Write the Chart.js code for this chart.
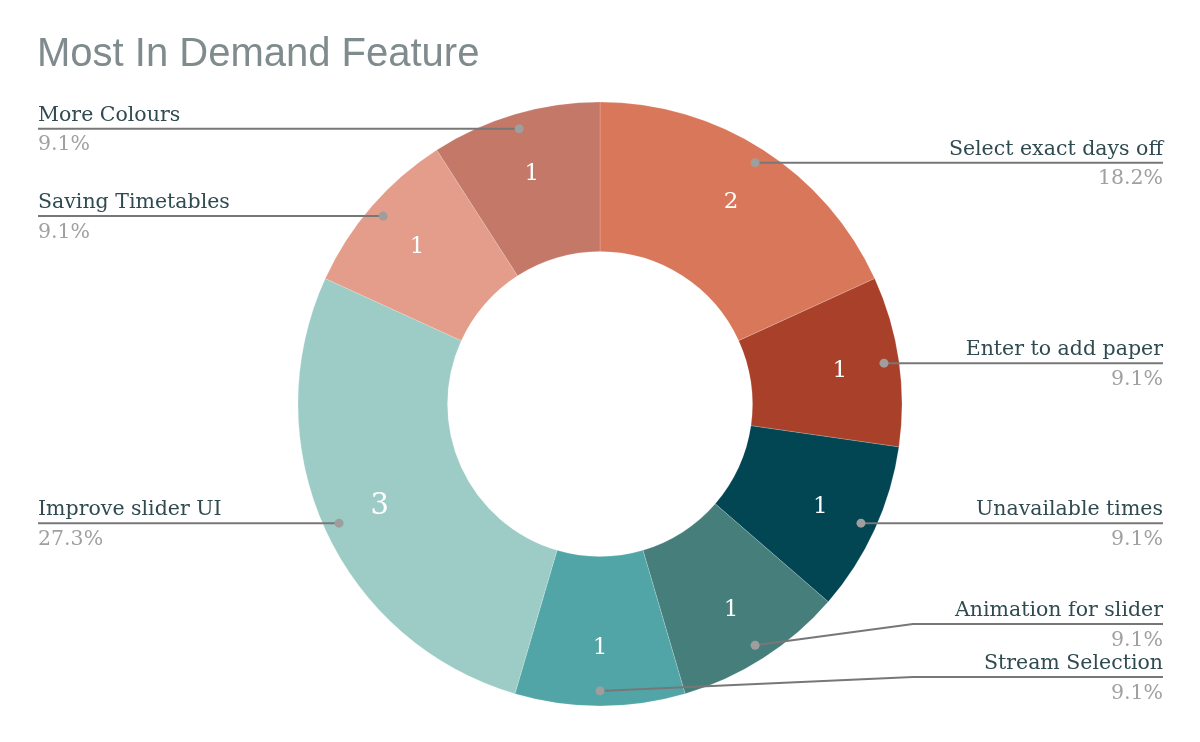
<!DOCTYPE html>
<html>
<head>
<meta charset="utf-8">
<script src="https://cdn.jsdelivr.net/npm/chart.js@4.4.1/dist/chart.umd.min.js"></script>
<style>
html,body{margin:0;padding:0;background:#fff;}
#wrap{position:relative;width:1200px;height:742px;}
</style>
</head>
<body>
<div id="wrap"><canvas id="c" width="1200" height="742"></canvas></div>
<script>
const chartTitle = 'Most In Demand Feature';
const categories = ['Select exact days off','Enter to add paper','Unavailable times','Animation for slider','Stream Selection','Improve slider UI','Saving Timetables','More Colours'];
const counts = [2,1,1,1,1,3,1,1];

const sliceColors = ['#D9775A','#A9402A','#024553','#467E7B','#51A5A6','#9DCCC6','#E39D8A','#C47868'];
// leader-line layout: which side the label sits on, and optional bend (elbow y)
const labelSide = ['right','right','right','right','right','left','left','left'];
const labelElbowY = [null,null,null,624,677,null,null,null];
const ELBOW_X = 913;
const LEFT_X = 38, RIGHT_X = 1163;

const total = counts.reduce((a,b)=>a+b,0);

const leaderPlugin = {
  id:'leaders',
  afterDraw(chart){
    const ctx = chart.ctx;
    const meta = chart.getDatasetMeta(0);
    ctx.save();
    // title
    ctx.font = '40px "Liberation Sans", Arial, sans-serif';
    ctx.fillStyle = '#7F8B8D';
    ctx.textAlign='left'; ctx.textBaseline='middle';
    ctx.fillText(chartTitle, 37, 55);

    meta.data.forEach((arc,i)=>{
      const p = arc.getProps(['x','y','startAngle','endAngle','innerRadius','outerRadius'], true);
      const mid = (p.startAngle+p.endAngle)/2;
      // value label
      const rv = p.innerRadius + (p.outerRadius-p.innerRadius)*0.6;
      const vx = p.x + Math.cos(mid)*rv, vy = p.y + Math.sin(mid)*rv;
      ctx.fillStyle = '#FFFFFF';
      ctx.font = (counts[i] >= 3 ? '29px' : '23px') + ' "DejaVu Serif", Georgia, serif';
      ctx.textAlign='center'; ctx.textBaseline='middle';
      ctx.fillText(String(counts[i]), vx, vy+2);
      // dot
      const rd = p.outerRadius*0.95;
      const dx = p.x + Math.cos(mid)*rd, dy = p.y + Math.sin(mid)*rd;
      const ly = labelElbowY[i] != null ? labelElbowY[i] : dy;
      const endX = labelSide[i]==='right' ? RIGHT_X : LEFT_X;
      ctx.strokeStyle = '#777777'; ctx.lineWidth = 2;
      ctx.beginPath(); ctx.moveTo(dx,dy);
      if (labelElbowY[i] != null) ctx.lineTo(ELBOW_X, ly);
      ctx.lineTo(endX, ly); ctx.stroke();
      ctx.fillStyle = '#9E9E9E';
      ctx.beginPath(); ctx.arc(dx,dy,4.5,0,Math.PI*2); ctx.fill();
      // texts
      ctx.textAlign = labelSide[i]==='right' ? 'right' : 'left';
      ctx.textBaseline='alphabetic';
      ctx.font = '20.5px "DejaVu Serif", Georgia, serif';
      ctx.fillStyle = '#2F4A50';
      ctx.fillText(categories[i], endX, ly-8);
      ctx.fillStyle = '#A0A0A0';
      ctx.textBaseline='top';
      ctx.fillText((counts[i]/total*100).toFixed(1)+'%', endX, ly+6);
    });
    ctx.restore();
  }
};

new Chart(document.getElementById('c'), {
  type:'doughnut',
  data:{ labels:categories, datasets:[{ data:counts, backgroundColor:sliceColors, borderColor:'rgba(255,255,255,0.18)', borderWidth:1 }] },
  options:{
    responsive:false, animation:false,
    cutout:'50.5%', radius:302,
    layout:{ padding:{ top:101, bottom:35, left:0, right:0 } },
    plugins:{ legend:{display:false}, tooltip:{enabled:false}, title:{display:false} }
  },
  plugins:[leaderPlugin]
});
</script>
</body>
</html>
